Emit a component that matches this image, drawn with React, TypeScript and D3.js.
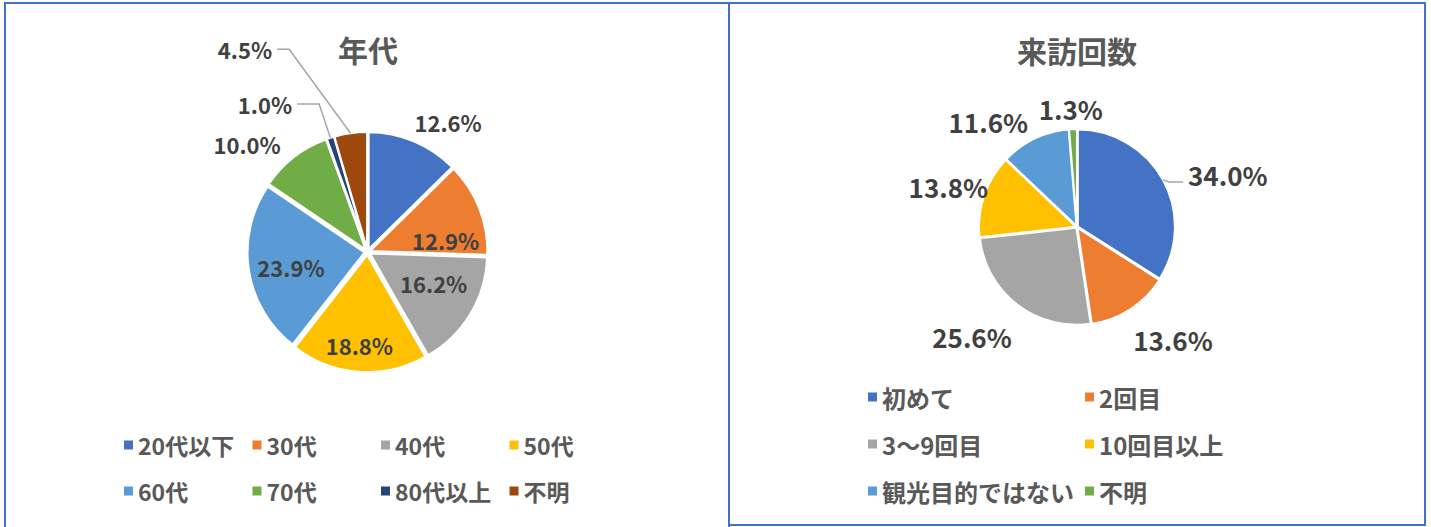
import React from "react";
import * as d3 from "d3";

const AGE_CATEGORIES = ["20代以下", "30代", "40代", "50代", "60代", "70代", "80代以上", "不明"];
const AGE_VALUES = [12.6, 12.9, 16.2, 18.8, 23.9, 10.0, 1.0, 4.5];
const AGE_COLORS = ["#4472C4", "#ED7D31", "#A5A5A5", "#FFC000", "#5B9BD5", "#70AD47", "#264478", "#9E480E"];

const VISIT_CATEGORIES = ["初めて", "2回目", "3〜9回目", "10回目以上", "観光目的ではない", "不明"];
const VISIT_VALUES = [34.0, 13.6, 25.6, 13.8, 11.6, 1.3];
const VISIT_COLORS = ["#4472C4", "#ED7D31", "#A5A5A5", "#FFC000", "#5B9BD5", "#70AD47"];

const FONT = "'Noto Sans CJK JP', 'Noto Sans', sans-serif";

type LabelSpec = { angle: number; dist: number; anchor: "middle" | "start" | "end"; leader?: { elbow: number; dy: number } };

const AGE_LABELS: LabelSpec[] = [
  { angle: 31.8, dist: 153, anchor: "middle" },
  { angle: 81.3, dist: 79, anchor: "middle" },
  { angle: 115, dist: 73, anchor: "middle" },
  { angle: 185, dist: 93, anchor: "middle" },
  { angle: 259, dist: 78, anchor: "middle" },
  { angle: 312, dist: 162, anchor: "middle" },
  { angle: 333, dist: 166, anchor: "end", leader: { elbow: 22, dy: 0 } },
  { angle: 334.8, dist: 224, anchor: "end", leader: { elbow: 12, dy: 0 } },
];

const VISIT_LABELS: LabelSpec[] = [
  { angle: 64.5, dist: 123, anchor: "start", leader: { elbow: 14, dy: 8 } },
  { angle: 139.6, dist: 148, anchor: "middle" },
  { angle: 223.7, dist: 152, anchor: "middle" },
  { angle: 287.6, dist: 135, anchor: "middle" },
  { angle: 320, dist: 138, anchor: "middle" },
  { angle: 357, dist: 119, anchor: "middle" },
];

type PieProps = {
  cx: number;
  cy: number;
  r: number;
  explode: number;
  values: number[];
  colors: string[];
  labels: LabelSpec[];
  fontSize: number;
};

function Pie({ cx, cy, r, explode, values, colors, labels, fontSize }: PieProps) {
  const pie = d3.pie<number>().sort(null).value((d) => d).startAngle(0).endAngle(2 * Math.PI);
  const arcs = pie(values);
  const arc = d3.arc<d3.PieArcDatum<number>>().innerRadius(0).outerRadius(r);
  const polar = (deg: number, dist: number): [number, number] => {
    const a = (deg * Math.PI) / 180;
    return [cx + Math.sin(a) * dist, cy - Math.cos(a) * dist];
  };
  return (
    <g>
      {arcs.map((a, i) => {
        const mid = (a.startAngle + a.endAngle) / 2;
        const ox = Math.sin(mid) * explode;
        const oy = -Math.cos(mid) * explode;
        return (
          <path
            key={i}
            d={arc(a) || ""}
            transform={`translate(${cx + ox},${cy + oy})`}
            fill={colors[i]}
            stroke="#fff"
            strokeWidth={2}
            strokeLinejoin="round"
          />
        );
      })}
      {arcs.map((a, i) => {
        const spec = labels[i];
        const [lx, ly] = polar(spec.angle, spec.dist);
        const mid = (a.startAngle + a.endAngle) / 2;
        let leader: React.ReactNode = null;
        if (spec.leader) {
          const edge = polar((mid * 180) / Math.PI, r + explode);
          const y = ly + spec.leader.dy;
          const sx = spec.anchor === "end" ? lx + 5 : lx - 5;
          const ex = spec.anchor === "end" ? sx + spec.leader.elbow : sx - spec.leader.elbow;
          const line = d3.line()([
            [sx, y],
            [ex, y],
            edge,
          ]);
          leader = <path d={line || ""} fill="none" stroke="#A6A6A6" strokeWidth={1.5} />;
        }
        return (
          <g key={"l" + i}>
            {leader}
            <text
              x={lx}
              y={ly}
              textAnchor={spec.anchor}
              dominantBaseline="central"
              fontFamily={FONT}
              fontWeight={700}
              fontSize={fontSize}
              fill="#404040"
            >
              {values[i].toFixed(1)}%
            </text>
          </g>
        );
      })}
    </g>
  );
}

type LegendProps = {
  items: string[];
  colors: string[];
  cols: number[];
  rows: number[];
  fontSize: number;
};

function Legend({ items, colors, cols, rows, fontSize }: LegendProps) {
  return (
    <g>
      {items.map((name, i) => {
        const x = cols[i % cols.length];
        const y = rows[Math.floor(i / cols.length)];
        return (
          <g key={i}>
            <rect x={x} y={y - 4.5} width={9} height={9} fill={colors[i]} />
            <text
              x={x + 14}
              y={y}
              dominantBaseline="central"
              fontFamily={FONT}
              fontWeight={700}
              fontSize={fontSize}
              fill="#595959"
            >
              {name}
            </text>
          </g>
        );
      })}
    </g>
  );
}

export default function App() {
  return (
    <svg
      width={1431}
      height={527}
      style={{ position: "absolute", left: 0, top: 0, background: "#fff" }}
    >
      <rect x={0} y={0} width={1431} height={527} fill="#fff" />
      <path d="M5,540 L5,3 L729,3 L729,540" fill="none" stroke="#4472C4" strokeWidth={2} />
      <rect x={729} y={3} width={696} height={522} fill="none" stroke="#4472C4" strokeWidth={2} />

      <text x={368} y={49} textAnchor="middle" dominantBaseline="central" fontFamily={FONT} fontWeight={700} fontSize={30} fill="#595959">
        年代
      </text>
      <Pie cx={367.5} cy={252} r={117} explode={3} values={AGE_VALUES} colors={AGE_COLORS} labels={AGE_LABELS} fontSize={22} />
      <Legend items={AGE_CATEGORIES} colors={AGE_COLORS} cols={[124, 252.5, 381, 509.5]} rows={[445, 491]} fontSize={23} />

      <text x={1077} y={50} textAnchor="middle" dominantBaseline="central" fontFamily={FONT} fontWeight={700} fontSize={30} fill="#595959">
        来訪回数
      </text>
      <Pie cx={1077} cy={227} r={97} explode={1} values={VISIT_VALUES} colors={VISIT_COLORS} labels={VISIT_LABELS} fontSize={26} />
      <Legend items={VISIT_CATEGORIES} colors={VISIT_COLORS} cols={[868, 1085]} rows={[397, 444, 491]} fontSize={24} />
    </svg>
  );
}
